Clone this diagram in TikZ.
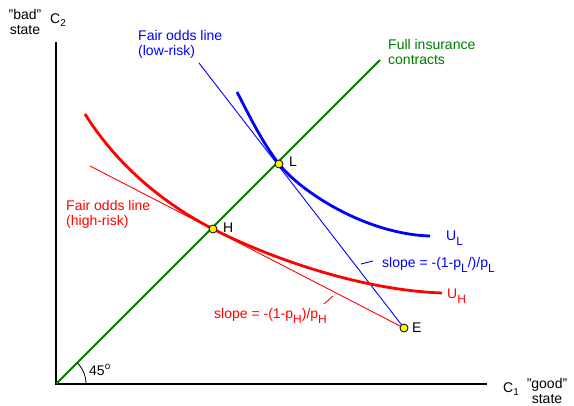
\documentclass[tikz,border=0pt]{standalone}
\usepackage{fontspec}
\setmainfont{Liberation Sans}
\definecolor{dgreen}{RGB}{0,120,0}
\newcommand\sbs[1]{\raisebox{-4.5pt}{\fontsize{12}{12}\selectfont #1}}
\newcommand\sbc[1]{\raisebox{-3pt}{\fontsize{10}{10}\selectfont #1}}
\begin{document}
\begin{tikzpicture}[x=1pt,y=-1pt,
  lbl/.style={font=\fontsize{14}{15}\selectfont, inner sep=0pt},
  lbll/.style={lbl, align=left, anchor=west},
  dot/.style={circle, fill=yellow, draw=black, line width=0.8pt, minimum size=8pt, inner sep=0pt},
  axis/.style={line width=1.2pt, black},
  fairline/.style={line width=0.9pt},
  ucurve/.style={line width=2.8pt}]
\useasboundingbox (0,0) rectangle (574,406);
% axes
\coordinate (O) at (56,384);
\coordinate (Ytop) at (56,42);
\coordinate (Xend) at (487,384);
\draw[axis] (Ytop) -- (O) -- (Xend);
% 45 degree line
\coordinate (G) at (380,60);
\draw[dgreen, line width=2pt] (O) -- (G);
% angle arc
\coordinate (A0) at (86,384);
\draw[line width=0.8pt] (A0) arc[start angle=0, end angle=-45, radius=30];
% points
\coordinate (Lp) at (279,164);
\coordinate (Hp) at (213,229);
\coordinate (Ep) at (404,328);
\coordinate (BL) at (199,63);
\coordinate (RL) at (90,166);
% fair odds lines
\draw[blue, fairline] (BL) -- (Ep);
\draw[red, fairline] (RL) -- (Ep);
% indifference curves
\draw[blue, ucurve] (237,92) .. controls (250,117) and (262,142) .. (Lp)
  .. controls (300,191) and (365,234) .. (430,236);
\draw[red, ucurve] (85,114) .. controls (120,170) and (170,207) .. (Hp)
  .. controls (270,258) and (360,290) .. (442,293);
% ticks
\coordinate (bt1) at (361,264); \coordinate (bt2) at (373,261);
\draw[blue, fairline] (bt1) -- (bt2);
\coordinate (rt1) at (324,304); \coordinate (rt2) at (333,296);
\draw[red, fairline] (rt1) -- (rt2);
% dots
\node[dot] (L) at (Lp) {};
\node[dot] (H) at (Hp) {};
\node[dot] (E) at (Ep) {};
% labels
\node[lbl, anchor=west] (Ltxt) at (289,162) {L};
\node[lbl, anchor=west] (Htxt) at (223,228) {H};
\node[lbl, anchor=west] (Etxt) at (412,328) {E};
\node[lbl, blue, anchor=west] (UL) at (446,238) {U\sbs{L}};
\node[lbl, red, anchor=west] (UH) at (447,296) {U\sbs{H}};
\node[lbll, blue] (blab) at (138,44) {Fair odds line\\(low-risk)};
\node[lbll, red] (rlab) at (66,214) {Fair odds line\\(high-risk)};
\node[lbll, dgreen] (glab) at (388,52) {Full insurance\\contracts};
\node[lbl, blue, anchor=west] (bslope) at (382,265) {slope = -(1-p\sbs{L}/)/p\sbs{L}};
\node[lbl, red, anchor=west] (rslope) at (214,316) {slope = -(1-p\sbs{H})/p\sbs{H}};
\node[lbl, align=center] (bad) at (25,22) {"bad"\\state};
\node[lbl] (C2) at (58,20) {C\sbc{2}};
\node[lbl] (C1) at (511,389) {C\sbc{1}};
\node[lbl, align=center] (good) at (547,391) {"good"\\state};
\node[lbl, anchor=west] (ang) at (89,370) {45\textsuperscript{o}};
\end{tikzpicture}
\end{document}
